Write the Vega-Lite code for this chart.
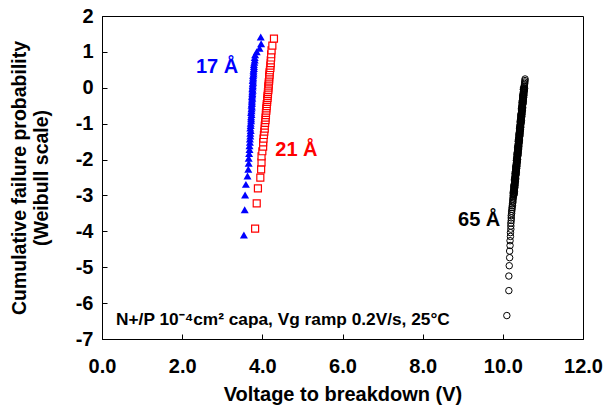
{
  "$schema": "https://vega.github.io/schema/vega-lite/v6.json",
  "width": 481,
  "height": 323,
  "autosize": "none",
  "padding": {"left": 102, "top": 16, "right": 27, "bottom": 69},
  "background": "white",
  "config": {
    "view": {"stroke": "black", "strokeWidth": 1},
    "axis": {
      "grid": false,
      "domainColor": "black",
      "tickColor": "black",
      "tickSize": -5,
      "labelFont": "Liberation Sans",
      "labelFontWeight": "bold",
      "labelFontSize": 20,
      "labelColor": "black",
      "labelFlush": false,
      "labelOverlap": false,
      "titleFont": "Liberation Sans",
      "titleFontWeight": "bold",
      "titleColor": "black"
    },
    "text": {"font": "Liberation Sans", "fontWeight": "bold", "fontSize": 20, "align": "center", "baseline": "middle"}
  },
  "encoding": {
    "x": {
      "field": "v",
      "type": "quantitative",
      "scale": {"domain": [0, 12], "nice": false, "zero": false},
      "axis": {
        "values": [0, 2, 4, 6, 8, 10, 12],
        "format": ".1f",
        "title": "Voltage to breakdown (V)",
        "titleFontSize": 20,
        "labelPadding": 22,
        "titlePadding": 8
      }
    },
    "y": {
      "field": "p",
      "type": "quantitative",
      "scale": {"domain": [-7, 2], "nice": false, "zero": false},
      "axis": {
        "values": [-7, -6, -5, -4, -3, -2, -1, 0, 1, 2],
        "format": "d",
        "labelExpr": "replace(datum.label, '\u2212', '-')",
        "title": ["Cumulative failure probability", "(Weibull scale)"],
        "titleFontSize": 19.5,
        "titleLineHeight": 22,
        "labelPadding": 14,
        "titlePadding": 24
      }
    }
  },
  "layer": [
    {
      "data": {"values": [
        {"v":3.54,"p":-4.103},{"v":3.56,"p":-3.401},{"v":3.57,"p":-2.987},{"v":3.59,"p":-2.691},{"v":3.63,"p":-2.459},
        {"v":3.65,"p":-2.268},{"v":3.66,"p":-2.105},{"v":3.66,"p":-1.962},{"v":3.67,"p":-1.835},{"v":3.68,"p":-1.72},
        {"v":3.68,"p":-1.615},{"v":3.69,"p":-1.518},{"v":3.69,"p":-1.428},{"v":3.7,"p":-1.344},{"v":3.7,"p":-1.265},
        {"v":3.71,"p":-1.19},{"v":3.7,"p":-1.119},{"v":3.71,"p":-1.051},{"v":3.71,"p":-0.986},{"v":3.72,"p":-0.923},
        {"v":3.72,"p":-0.863},{"v":3.72,"p":-0.805},{"v":3.73,"p":-0.748},{"v":3.72,"p":-0.693},{"v":3.73,"p":-0.64},
        {"v":3.73,"p":-0.588},{"v":3.74,"p":-0.537},{"v":3.73,"p":-0.487},{"v":3.74,"p":-0.438},{"v":3.74,"p":-0.39},
        {"v":3.74,"p":-0.343},{"v":3.75,"p":-0.296},{"v":3.74,"p":-0.25},{"v":3.75,"p":-0.205},{"v":3.75,"p":-0.159},
        {"v":3.75,"p":-0.114},{"v":3.76,"p":-0.07},{"v":3.75,"p":-0.025},{"v":3.76,"p":0.02},{"v":3.76,"p":0.064},
        {"v":3.76,"p":0.109},{"v":3.77,"p":0.154},{"v":3.76,"p":0.199},{"v":3.77,"p":0.245},{"v":3.77,"p":0.291},
        {"v":3.77,"p":0.338},{"v":3.78,"p":0.386},{"v":3.78,"p":0.436},{"v":3.78,"p":0.486},{"v":3.79,"p":0.538},
        {"v":3.79,"p":0.592},{"v":3.79,"p":0.649},{"v":3.8,"p":0.709},{"v":3.81,"p":0.772},{"v":3.81,"p":0.841},
        {"v":3.82,"p":0.917},{"v":3.86,"p":1.002},{"v":3.93,"p":1.103},{"v":3.97,"p":1.229},{"v":3.96,"p":1.414}
      ]},
      "mark": {"type": "point", "shape": "triangle-up", "filled": true, "color": "#0000FF", "size": 64, "opacity": 1}
    },
    {
      "data": {"values": [
        {"v":3.82,"p":-3.922},{"v":3.86,"p":-3.219},{"v":3.89,"p":-2.803},{"v":3.95,"p":-2.505},{"v":3.97,"p":-2.271},
        {"v":3.98,"p":-2.078},{"v":3.98,"p":-1.913},{"v":4.0,"p":-1.768},{"v":4.02,"p":-1.639},{"v":4.02,"p":-1.522},
        {"v":4.03,"p":-1.415},{"v":4.04,"p":-1.316},{"v":4.05,"p":-1.223},{"v":4.06,"p":-1.137},{"v":4.06,"p":-1.055},
        {"v":4.07,"p":-0.977},{"v":4.08,"p":-0.903},{"v":4.08,"p":-0.832},{"v":4.09,"p":-0.763},{"v":4.09,"p":-0.697},
        {"v":4.1,"p":-0.634},{"v":4.1,"p":-0.572},{"v":4.11,"p":-0.511},{"v":4.11,"p":-0.452},{"v":4.12,"p":-0.395},
        {"v":4.12,"p":-0.338},{"v":4.13,"p":-0.283},{"v":4.13,"p":-0.228},{"v":4.14,"p":-0.173},{"v":4.14,"p":-0.12},
        {"v":4.15,"p":-0.066},{"v":4.15,"p":-0.013},{"v":4.15,"p":0.041},{"v":4.16,"p":0.094},{"v":4.16,"p":0.148},
        {"v":4.17,"p":0.202},{"v":4.17,"p":0.257},{"v":4.17,"p":0.313},{"v":4.18,"p":0.369},{"v":4.18,"p":0.428},
        {"v":4.19,"p":0.488},{"v":4.2,"p":0.551},{"v":4.2,"p":0.616},{"v":4.21,"p":0.686},{"v":4.21,"p":0.761},
        {"v":4.22,"p":0.843},{"v":4.22,"p":0.934},{"v":4.23,"p":1.041},{"v":4.25,"p":1.175},{"v":4.29,"p":1.369}
      ]},
      "mark": {"type": "point", "shape": "square", "filled": true, "fill": "white", "stroke": "#FF0000", "strokeWidth": 1.2, "size": 49, "opacity": 1}
    },
    {
      "data": {"values": [
        {"v":10.1,"p":-6.347},{"v":10.15,"p":-5.652},{"v":10.15,"p":-5.246},{"v":10.16,"p":-4.958},{"v":10.17,"p":-4.734},
        {"v":10.17,"p":-4.55},{"v":10.18,"p":-4.395},{"v":10.18,"p":-4.261},{"v":10.19,"p":-4.142},{"v":10.19,"p":-4.036},
        {"v":10.2,"p":-3.94},{"v":10.2,"p":-3.852},{"v":10.2,"p":-3.771},{"v":10.21,"p":-3.696},{"v":10.21,"p":-3.626},
        {"v":10.21,"p":-3.561},{"v":10.22,"p":-3.499},{"v":10.22,"p":-3.441},{"v":10.23,"p":-3.386},{"v":10.23,"p":-3.334},
        {"v":10.24,"p":-3.284},{"v":10.24,"p":-3.237},{"v":10.25,"p":-3.192},{"v":10.25,"p":-3.148},{"v":10.25,"p":-3.106},
        {"v":10.26,"p":-3.066},{"v":10.26,"p":-3.027},
        {"v":10.266,"p":-3.0},{"v":10.281,"p":-2.97},{"v":10.263,"p":-2.94},{"v":10.28,"p":-2.91},{"v":10.265,"p":-2.88},
        {"v":10.283,"p":-2.85},{"v":10.282,"p":-2.82},{"v":10.296,"p":-2.79},{"v":10.279,"p":-2.76},{"v":10.296,"p":-2.73},
        {"v":10.28,"p":-2.7},{"v":10.299,"p":-2.67},{"v":10.298,"p":-2.64},{"v":10.312,"p":-2.61},{"v":10.295,"p":-2.58},
        {"v":10.312,"p":-2.55},{"v":10.296,"p":-2.52},{"v":10.315,"p":-2.49},{"v":10.314,"p":-2.46},{"v":10.328,"p":-2.43},
        {"v":10.311,"p":-2.4},{"v":10.327,"p":-2.37},{"v":10.312,"p":-2.34},{"v":10.331,"p":-2.31},{"v":10.329,"p":-2.28},
        {"v":10.344,"p":-2.25},{"v":10.327,"p":-2.22},{"v":10.343,"p":-2.19},{"v":10.328,"p":-2.16},{"v":10.347,"p":-2.13},
        {"v":10.345,"p":-2.1},{"v":10.36,"p":-2.07},{"v":10.343,"p":-2.04},{"v":10.359,"p":-2.01},{"v":10.344,"p":-1.98},
        {"v":10.362,"p":-1.95},{"v":10.361,"p":-1.92},{"v":10.376,"p":-1.89},{"v":10.358,"p":-1.86},{"v":10.375,"p":-1.83},
        {"v":10.36,"p":-1.8},{"v":10.378,"p":-1.77},{"v":10.377,"p":-1.74},{"v":10.392,"p":-1.71},{"v":10.374,"p":-1.68},
        {"v":10.391,"p":-1.65},{"v":10.375,"p":-1.62},{"v":10.394,"p":-1.59},{"v":10.393,"p":-1.56},{"v":10.407,"p":-1.53},
        {"v":10.39,"p":-1.5},{"v":10.407,"p":-1.47},{"v":10.391,"p":-1.44},{"v":10.41,"p":-1.41},{"v":10.409,"p":-1.38},
        {"v":10.423,"p":-1.35},{"v":10.406,"p":-1.32},{"v":10.423,"p":-1.29},{"v":10.407,"p":-1.26},{"v":10.426,"p":-1.23},
        {"v":10.424,"p":-1.2},{"v":10.439,"p":-1.17},{"v":10.422,"p":-1.14},{"v":10.438,"p":-1.11},{"v":10.423,"p":-1.08},
        {"v":10.442,"p":-1.05},{"v":10.44,"p":-1.02},{"v":10.455,"p":-0.99},{"v":10.438,"p":-0.96},{"v":10.454,"p":-0.93},
        {"v":10.439,"p":-0.9},{"v":10.457,"p":-0.87},{"v":10.456,"p":-0.84},{"v":10.471,"p":-0.81},{"v":10.453,"p":-0.78},
        {"v":10.47,"p":-0.75},{"v":10.455,"p":-0.72},{"v":10.473,"p":-0.69},{"v":10.472,"p":-0.66},{"v":10.487,"p":-0.63},
        {"v":10.469,"p":-0.6},{"v":10.486,"p":-0.57},{"v":10.471,"p":-0.54},{"v":10.489,"p":-0.51},{"v":10.488,"p":-0.48},
        {"v":10.502,"p":-0.45},{"v":10.485,"p":-0.42},{"v":10.502,"p":-0.39},{"v":10.486,"p":-0.36},{"v":10.505,"p":-0.33},
        {"v":10.504,"p":-0.3},{"v":10.518,"p":-0.27},{"v":10.501,"p":-0.24},{"v":10.518,"p":-0.21},{"v":10.502,"p":-0.18},
        {"v":10.521,"p":-0.15},{"v":10.519,"p":-0.12},{"v":10.534,"p":-0.09},{"v":10.517,"p":-0.06},{"v":10.533,"p":-0.03},
        {"v":10.518,"p":0.0},
        {"v":10.261,"p":-2.985},{"v":10.279,"p":-2.955},{"v":10.259,"p":-2.925},{"v":10.289,"p":-2.895},{"v":10.28,"p":-2.865},
        {"v":10.278,"p":-2.835},{"v":10.277,"p":-2.805},{"v":10.295,"p":-2.775},{"v":10.274,"p":-2.745},{"v":10.305,"p":-2.715},
        {"v":10.296,"p":-2.685},{"v":10.293,"p":-2.655},{"v":10.293,"p":-2.625},{"v":10.311,"p":-2.595},{"v":10.29,"p":-2.565},
        {"v":10.321,"p":-2.535},{"v":10.312,"p":-2.505},{"v":10.309,"p":-2.475},{"v":10.309,"p":-2.445},{"v":10.327,"p":-2.415},
        {"v":10.306,"p":-2.385},{"v":10.337,"p":-2.355},{"v":10.327,"p":-2.325},{"v":10.325,"p":-2.295},{"v":10.325,"p":-2.265},
        {"v":10.342,"p":-2.235},{"v":10.322,"p":-2.205},{"v":10.353,"p":-2.175},{"v":10.343,"p":-2.145},{"v":10.341,"p":-2.115},
        {"v":10.341,"p":-2.085},{"v":10.358,"p":-2.055},{"v":10.338,"p":-2.025},{"v":10.368,"p":-1.995},{"v":10.359,"p":-1.965},
        {"v":10.357,"p":-1.935},{"v":10.356,"p":-1.905},{"v":10.374,"p":-1.875},{"v":10.354,"p":-1.845},{"v":10.384,"p":-1.815},
        {"v":10.375,"p":-1.785},{"v":10.373,"p":-1.755},{"v":10.372,"p":-1.725},{"v":10.39,"p":-1.695},{"v":10.37,"p":-1.665},
        {"v":10.4,"p":-1.635},{"v":10.391,"p":-1.605},{"v":10.388,"p":-1.575},{"v":10.388,"p":-1.545},{"v":10.406,"p":-1.515},
        {"v":10.385,"p":-1.485},{"v":10.416,"p":-1.455},{"v":10.407,"p":-1.425},{"v":10.404,"p":-1.395},{"v":10.404,"p":-1.365},
        {"v":10.422,"p":-1.335},{"v":10.401,"p":-1.305},{"v":10.432,"p":-1.275},{"v":10.422,"p":-1.245},{"v":10.42,"p":-1.215},
        {"v":10.42,"p":-1.185},{"v":10.437,"p":-1.155},{"v":10.417,"p":-1.125},{"v":10.448,"p":-1.095},{"v":10.438,"p":-1.065},
        {"v":10.436,"p":-1.035},{"v":10.436,"p":-1.005},{"v":10.453,"p":-0.975},{"v":10.433,"p":-0.945},{"v":10.464,"p":-0.915},
        {"v":10.454,"p":-0.885},{"v":10.452,"p":-0.855},{"v":10.451,"p":-0.825},{"v":10.469,"p":-0.795},{"v":10.449,"p":-0.765},
        {"v":10.479,"p":-0.735},{"v":10.47,"p":-0.705},{"v":10.468,"p":-0.675},{"v":10.467,"p":-0.645},{"v":10.485,"p":-0.615},
        {"v":10.465,"p":-0.585},{"v":10.495,"p":-0.555},{"v":10.486,"p":-0.525},{"v":10.483,"p":-0.495},{"v":10.483,"p":-0.465},
        {"v":10.501,"p":-0.435},{"v":10.48,"p":-0.405},{"v":10.511,"p":-0.375},{"v":10.502,"p":-0.345},{"v":10.499,"p":-0.315},
        {"v":10.499,"p":-0.285},{"v":10.517,"p":-0.255},{"v":10.496,"p":-0.225},{"v":10.527,"p":-0.195},{"v":10.518,"p":-0.165},
        {"v":10.515,"p":-0.135},{"v":10.515,"p":-0.105},{"v":10.532,"p":-0.075},{"v":10.512,"p":-0.045},{"v":10.543,"p":-0.015},
        {"v":10.535,"p":0.04},{"v":10.54,"p":0.08},{"v":10.545,"p":0.12},{"v":10.548,"p":0.16},{"v":10.552,"p":0.2},{"v":10.555,"p":0.245}
      ]},
      "mark": {"type": "point", "shape": "circle", "filled": false, "color": "black", "strokeWidth": 1, "size": 42, "opacity": 1}
    },
    {
      "data": {"values": [{"v": 2.87, "p": 0.58, "label": "17 Å"}]},
      "mark": {"type": "text", "color": "#0000FF"},
      "encoding": {"text": {"field": "label", "type": "nominal"}}
    },
    {
      "data": {"values": [{"v": 4.85, "p": -1.73, "label": "21 Å"}]},
      "mark": {"type": "text", "color": "#FF0000"},
      "encoding": {"text": {"field": "label", "type": "nominal"}}
    },
    {
      "data": {"values": [{"v": 9.41, "p": -3.68, "label": "65 Å"}]},
      "mark": {"type": "text", "color": "black"},
      "encoding": {"text": {"field": "label", "type": "nominal"}}
    },
    {
      "data": {"values": [{"v": 0.35, "p": -6.47, "label": "N+/P 10⁻⁴cm² capa, Vg ramp 0.2V/s, 25°C"}]},
      "mark": {"type": "text", "color": "black", "fontSize": 17.3, "align": "left"},
      "encoding": {"text": {"field": "label", "type": "nominal"}}
    }
  ]
}
